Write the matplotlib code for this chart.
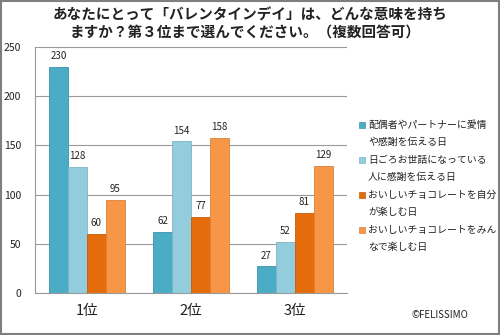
import matplotlib
matplotlib.use("Agg")
import matplotlib.pyplot as plt
import numpy as np
from matplotlib.patches import Rectangle

plt.rcParams['font.family'] = ['Noto Sans CJK JP', 'DejaVu Sans']

categories = ["1位", "2位", "3位"]
series_names = [
    ["配偶者やパートナーに愛情", "や感謝を伝える日"],
    ["日ごろお世話になっている", "人に感謝を伝える日"],
    ["おいしいチョコレートを自分", "が楽しむ日"],
    ["おいしいチョコレートをみん", "なで楽しむ日"],
]
values = [
    [230, 62, 27],
    [128, 154, 52],
    [60, 77, 81],
    [95, 158, 129],
]
colors = ["#4BACC6", "#93CDDD", "#E46C0A", "#F79646"]
edges = ["#3E93AA", "#7FB3C2", "#C55D08", "#D9823C"]
title_lines = ["あなたにとって「バレンタインデイ」は、どんな意味を持ち",
               "ますか？第３位まで選んでください。（複数回答可）"]
yticks = [0, 50, 100, 150, 200, 250]

W, H = 500, 335
fig = plt.figure(figsize=(W / 100, H / 100), dpi=100)
ax = fig.add_axes([35 / W, 1 - 293 / H, 312 / W, 246 / H])

x = np.arange(len(categories))
bw = 0.1825
for i, vals in enumerate(values):
    pos = x + (i - 1.5) * bw
    bars = ax.bar(pos, vals, width=bw, color=colors[i], edgecolor=edges[i],
                  linewidth=0.6, zorder=3)
    for b, v in zip(bars, vals):
        ax.text(b.get_x() + b.get_width() / 2, v + 6, str(v), ha='center',
                va='bottom', fontsize=7, color='#222222', zorder=4)

ax.set_xlim(-0.5, 2.5)
ax.set_ylim(0, 250)
ax.set_yticks(yticks)
ax.set_yticklabels([str(t) for t in yticks], fontsize=7.5, color='#222222')
ax.set_xticks(x)
ax.set_xticklabels(categories, fontsize=10.5, color='#222222')
ax.tick_params(axis='y', length=0, pad=10)
ax.tick_params(axis='x', length=0, pad=8)
ax.grid(axis='y', color='#9a9a9a', linewidth=0.8, zorder=0)
for s in ['top', 'right']:
    ax.spines[s].set_visible(False)
for s in ['left', 'bottom']:
    ax.spines[s].set_color('#9a9a9a')
    ax.spines[s].set_linewidth(0.8)

# title
fig.text(0.5, 1 - 15 / H, title_lines[0], ha='center', va='center',
         fontsize=10.5, fontweight='bold', color='#222222')
fig.text(0.49, 1 - 33 / H, title_lines[1], ha='center', va='center',
         fontsize=10.5, fontweight='bold', color='#222222')

# legend
for i, lines in enumerate(series_names):
    y0 = 125 + 35 * i
    fig.patches.append(Rectangle((359 / W, 1 - (y0 + 3) / H), 6 / W, 6 / H,
                                 transform=fig.transFigure,
                                 facecolor=colors[i], edgecolor=edges[i],
                                 linewidth=0.5))
    for j, ln in enumerate(lines):
        fig.text(368 / W, 1 - (y0 + 17 * j) / H, ln, ha='left', va='center',
                 fontsize=7.1, color='#222222')

fig.text(440 / W, 1 - 315 / H, "©FELISSIMO", ha='center', va='center',
         fontsize=7, color='#222222')

# border
fig.patches.append(Rectangle((0.002, 0.003), 0.996, 0.994,
                             transform=fig.transFigure, fill=False,
                             edgecolor='#7f7f7f', linewidth=1.5))

fig.savefig("out.png", dpi=100)
